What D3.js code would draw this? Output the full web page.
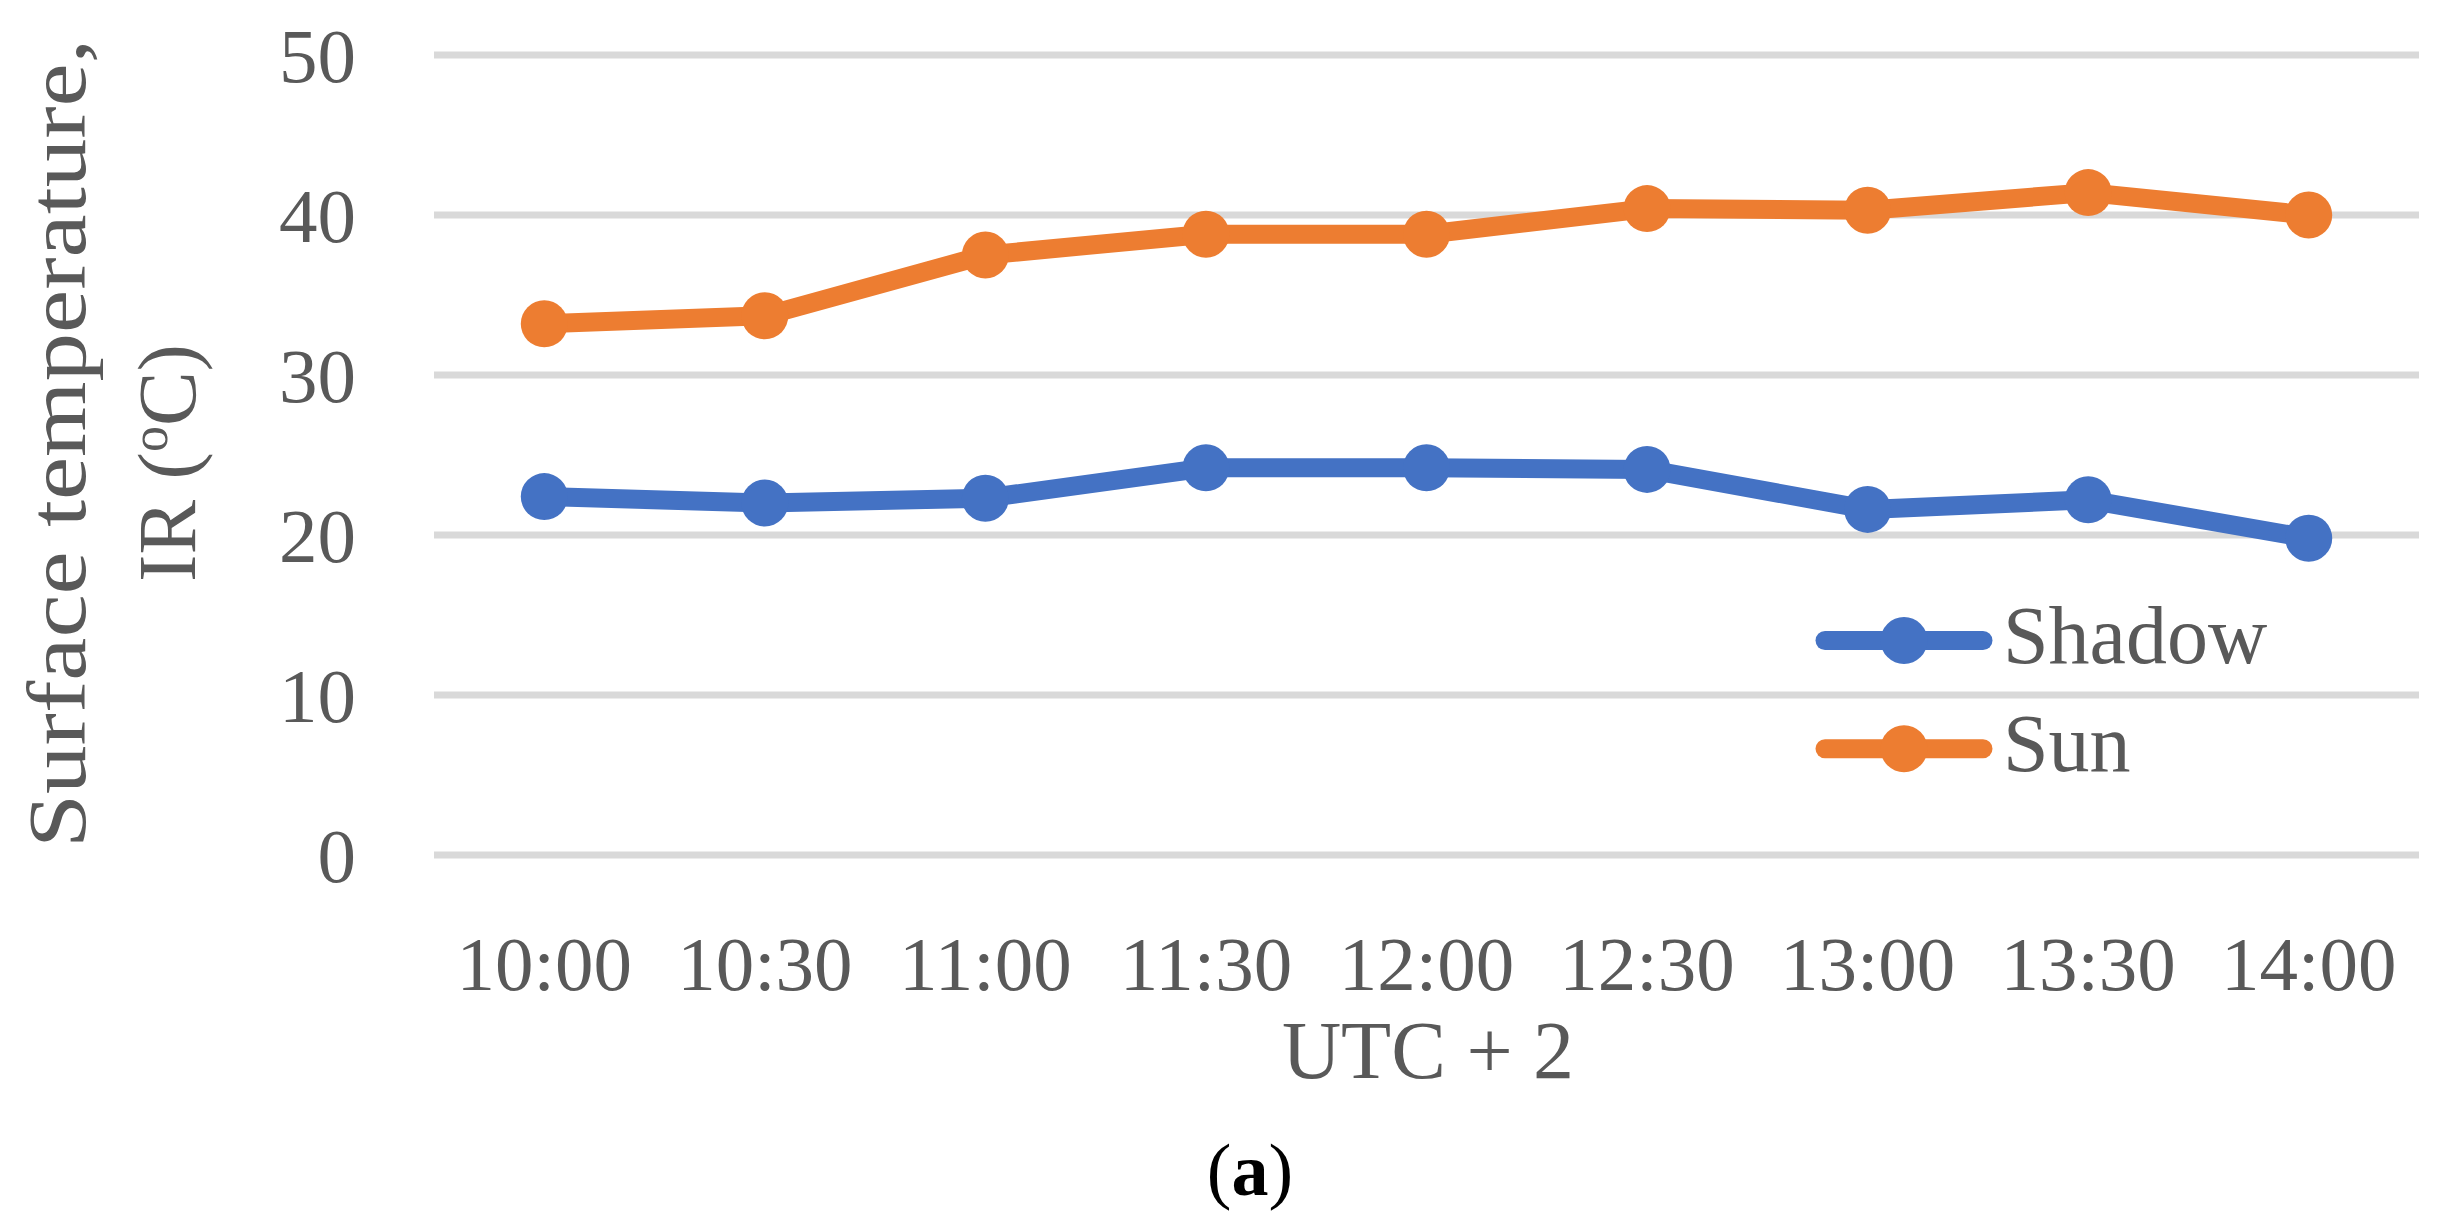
<!DOCTYPE html>
<html>
<head>
<meta charset="utf-8">
<script src="https://cdn.jsdelivr.net/npm/d3@7"></script>
<style>
  html, body { margin: 0; padding: 0; background: #fff; }
  svg { display: block; }
</style>
</head>
<body>
<svg id="chart" width="2440" height="1230"></svg>
<script>
// ---- data ----
const categories = ["10:00", "10:30", "11:00", "11:30", "12:00", "12:30", "13:00", "13:30", "14:00"];
const shadowValues = [22.4, 22.0, 22.3, 24.2, 24.2, 24.1, 21.6, 22.2, 19.8];
const sunValues = [33.2, 33.7, 37.5, 38.8, 38.8, 40.4, 40.3, 41.4, 40.0];
const yTickValues = [0, 10, 20, 30, 40, 50];
const seriesNames = ["Shadow", "Sun"];

// ---- layout ----
const W = 2440, H = 1230;
const plot = { left: 434, right: 2419, top: 55, bottom: 855 };
const colors = { Shadow: "#4472C4", Sun: "#ED7D31" };
const textColor = "#595959";
const fontFamily = "'Liberation Serif', 'Times New Roman', serif";

const svg = d3.select("#chart");
svg.append("rect").attr("width", W).attr("height", H).attr("fill", "#fff");

const x = d3.scaleBand().domain(categories).range([plot.left, plot.right]).padding(0);
const xc = d => x(d) + x.bandwidth() / 2;
const y = d3.scaleLinear().domain([0, 50]).range([plot.bottom, plot.top]);

// gridlines
svg.append("g").selectAll("line")
  .data(yTickValues)
  .join("line")
  .attr("x1", plot.left).attr("x2", plot.right)
  .attr("y1", d => y(d)).attr("y2", d => y(d))
  .attr("stroke", "#D9D9D9").attr("stroke-width", 7);

// y axis labels
const yAxis = svg.append("g")
  .attr("transform", `translate(${plot.left},0)`)
  .call(d3.axisLeft(y).tickValues(yTickValues).tickSize(0).tickPadding(78).tickFormat(d3.format("d")));
yAxis.select(".domain").remove();
yAxis.selectAll("text")
  .attr("font-family", fontFamily).attr("font-size", 77).attr("fill", textColor)
  .attr("dy", "0.34em");

// x axis labels
const xAxis = svg.append("g")
  .attr("transform", `translate(0,${plot.bottom})`)
  .call(d3.axisBottom(x).tickSize(0));
xAxis.select(".domain").remove();
xAxis.selectAll("text")
  .attr("font-family", fontFamily).attr("font-size", 77).attr("fill", textColor)
  .attr("y", 135).attr("dy", 0);

// series
const series = [
  { name: "Shadow", values: shadowValues },
  { name: "Sun", values: sunValues }
];
const line = d3.line().x((d, i) => xc(categories[i])).y(d => y(d));

series.forEach(s => {
  const g = svg.append("g");
  g.append("path")
    .attr("d", line(s.values))
    .attr("fill", "none")
    .attr("stroke", colors[s.name])
    .attr("stroke-width", 19)
    .attr("stroke-linejoin", "round")
    .attr("stroke-linecap", "round");
  g.selectAll("circle")
    .data(s.values)
    .join("circle")
    .attr("cx", (d, i) => xc(categories[i]))
    .attr("cy", d => y(d))
    .attr("r", 23.5)
    .attr("fill", colors[s.name]);
});

// legend
const legendY = [640.5, 748.7];
const legend = svg.append("g");
seriesNames.forEach((name, i) => {
  const ly = legendY[i];
  legend.append("line")
    .attr("x1", 1825).attr("x2", 1983)
    .attr("y1", ly).attr("y2", ly)
    .attr("stroke", colors[name]).attr("stroke-width", 19)
    .attr("stroke-linecap", "round");
  legend.append("circle")
    .attr("cx", 1904).attr("cy", ly).attr("r", 23.5)
    .attr("fill", colors[name]);
  legend.append("text")
    .attr("x", 2003).attr("y", ly + 22)
    .attr("font-family", fontFamily).attr("font-size", 82)
    .attr("fill", textColor)
    .text(name);
});

// y axis title (two lines)
svg.append("text")
  .attr("transform", "translate(85,443.5) rotate(-90)")
  .attr("text-anchor", "middle")
  .attr("font-family", fontFamily).attr("font-size", 82).attr("fill", textColor)
  .attr("textLength", 809).attr("lengthAdjust", "spacingAndGlyphs")
  .text("Surface temperature,");

const t2 = svg.append("text")
  .attr("transform", "translate(195,463) rotate(-90)")
  .attr("text-anchor", "middle")
  .attr("font-family", fontFamily).attr("font-size", 82).attr("fill", textColor);
t2.append("tspan").text("IR (");
t2.append("tspan").attr("font-size", 52).attr("dy", -28).text("o");
t2.append("tspan").attr("dy", 28).text("C)");

// x axis title
svg.append("text")
  .attr("x", 1428).attr("y", 1078)
  .attr("text-anchor", "middle")
  .attr("font-family", fontFamily).attr("font-size", 82).attr("fill", textColor)
  .text("UTC + 2");

// panel label
const pl = svg.append("text")
  .attr("x", 1250).attr("y", 1195)
  .attr("text-anchor", "middle")
  .attr("font-family", fontFamily).attr("font-size", 74).attr("fill", "#000");
pl.append("tspan").text("(");
pl.append("tspan").attr("font-weight", "bold").text("a");
pl.append("tspan").text(")");
</script>
</body>
</html>
